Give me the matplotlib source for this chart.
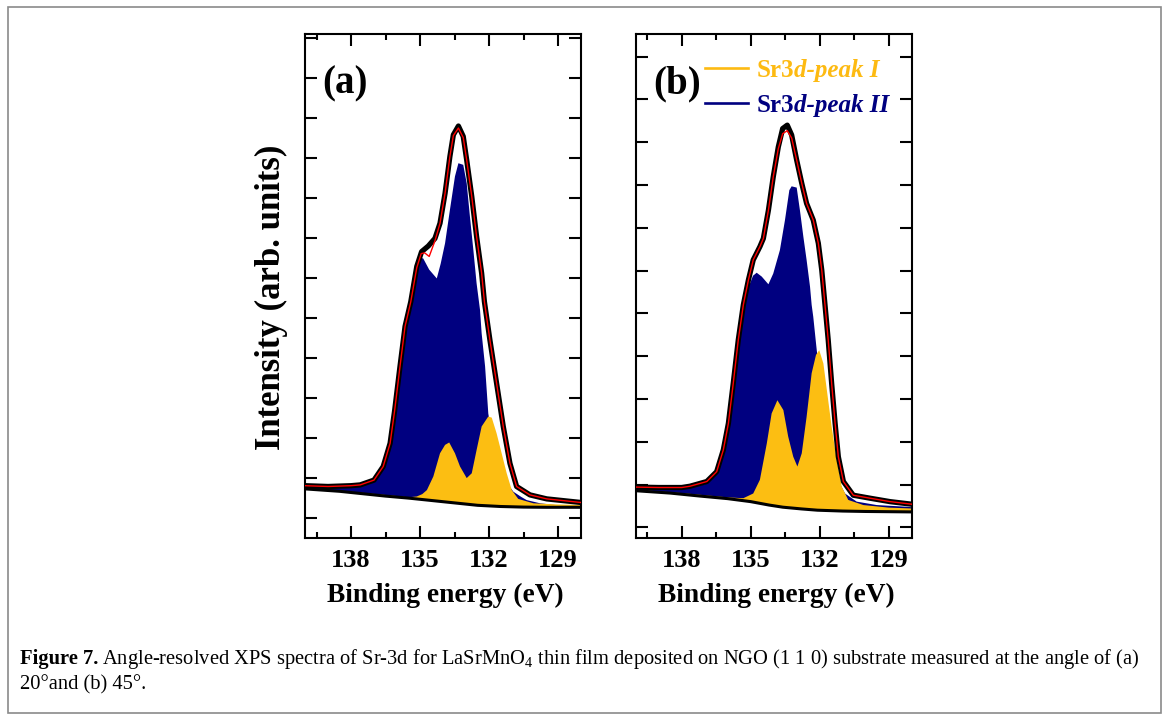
"""Angle-resolved XPS Sr-3d spectra of LaSrMnO4 on NGO (1 1 0), panels (a) and (b)."""

import matplotlib

matplotlib.use("Agg")
import matplotlib.pyplot as plt
from matplotlib.patches import Rectangle
from matplotlib.ticker import MultipleLocator

plt.rcParams["font.family"] = ["Liberation Serif", "DejaVu Serif"]
plt.rcParams["font.weight"] = "bold"
plt.rcParams["axes.labelweight"] = "bold"
plt.rcParams["mathtext.fontset"] = "custom"
plt.rcParams["mathtext.rm"] = "Liberation Serif:regular"
plt.rcParams["mathtext.it"] = "Liberation Serif:italic"
plt.rcParams["mathtext.bf"] = "Liberation Serif:bold"

# ---- panel (a), 20 deg: binding energy (eV) / intensity (arb. units) ----
env_a_E = [140.0, 139.0, 138.0, 137.6, 137.0, 136.6, 136.3, 136.1, 135.87, 135.65,
           135.4, 135.14, 134.93, 134.64, 134.35, 134.13, 133.91, 133.7, 133.55,
           133.33, 133.12, 132.97, 132.75, 132.54, 132.32, 132.2, 131.96, 131.67,
           131.38, 131.09, 130.8, 130.22, 129.49, 128.0]
env_a_I = [0.80, 0.78, 0.80, 0.82, 0.94, 1.28, 1.86, 2.69, 3.78, 4.78,
           5.40, 6.28, 6.65, 6.79, 6.98, 7.36, 8.11, 9.03, 9.57,
           9.79, 9.53, 8.94, 8.03, 7.03, 6.11, 5.40, 4.44, 3.36,
           2.28, 1.36, 0.78, 0.57, 0.47, 0.38]
fit_a_E = [140.0, 139.0, 138.0, 137.6, 137.0, 136.6, 136.3, 136.1, 135.87, 135.65,
           135.4, 135.14, 134.95, 134.8, 134.6, 134.35, 134.13, 133.91, 133.7, 133.55,
           133.33, 133.12, 132.97, 132.75, 132.54, 132.32, 132.2, 131.96, 131.67,
           131.38, 131.09, 130.8, 130.22, 129.49, 128.0]
fit_a_I = [0.80, 0.78, 0.80, 0.82, 0.94, 1.28, 1.86, 2.69, 3.78, 4.78,
           5.40, 6.25, 6.60, 6.62, 6.53, 6.92, 7.36, 8.11, 9.03, 9.55,
           9.74, 9.50, 8.94, 8.03, 7.03, 6.11, 5.40, 4.44, 3.36,
           2.28, 1.36, 0.78, 0.57, 0.47, 0.38]
bg_a_E = [140.0, 138.5, 137.5, 136.5, 135.5, 134.5, 133.5, 132.5, 131.5, 130.5, 129.5, 128.0]
bg_a_I = [0.72, 0.66, 0.60, 0.54, 0.49, 0.43, 0.37, 0.31, 0.28, 0.265, 0.26, 0.26]
peak2_a_E = [140.0, 138.5, 137.6, 137.0, 136.6, 136.3, 136.1, 135.87, 135.65, 135.4,
             135.2, 135.0, 134.86, 134.6, 134.27, 134.1, 133.91, 133.7, 133.48, 133.33,
             133.12, 132.97, 132.83, 132.68, 132.54, 132.39, 132.32, 132.17, 132.03,
             131.85, 131.5, 131.2, 130.94, 130.6, 130.36, 129.78, 129.0, 128.0]
peak2_a_I = [0.77, 0.76, 0.79, 0.90, 1.22, 1.78, 2.60, 3.70, 4.70, 5.30,
             6.00, 6.50, 6.48, 6.20, 5.98, 6.35, 6.86, 7.69, 8.53, 8.86,
             8.82, 8.36, 7.53, 6.69, 5.86, 5.19, 4.61, 3.78, 2.60,
             2.00, 1.20, 0.85, 0.65, 0.52, 0.44, 0.36, 0.31, 0.29]
peak1_a_E = [140.0, 138.0, 136.0, 135.5, 135.14, 134.9, 134.7, 134.42, 134.13, 133.91,
             133.73, 133.48, 133.26, 132.97, 132.75, 132.54, 132.32, 132.03, 131.88,
             131.67, 131.45, 131.23, 131.01, 130.73, 130.07, 129.0, 128.0]
peak1_a_I = [0.74, 0.65, 0.54, 0.51, 0.53, 0.59, 0.69, 1.03, 1.61, 1.82,
             1.88, 1.61, 1.28, 0.99, 1.11, 1.69, 2.28, 2.53, 2.50,
             2.11, 1.61, 1.11, 0.69, 0.47, 0.36, 0.33, 0.32]

# ---- panel (b), 45 deg ----
env_b_E = [140.0, 139.0, 138.0, 137.64, 136.91, 136.48, 136.19, 135.97, 135.76, 135.54,
           135.32, 135.1, 134.89, 134.6, 134.45, 134.23, 134.02, 133.8, 133.61, 133.41,
           133.22, 133.0, 132.78, 132.57, 132.28, 132.06, 131.91, 131.77, 131.63, 131.48,
           131.33, 131.19, 130.97, 130.54, 129.81, 128.94, 128.0]
env_b_I = [0.94, 0.93, 0.93, 0.96, 1.07, 1.30, 1.81, 2.43, 3.36, 4.38,
           5.20, 5.78, 6.25, 6.56, 6.75, 7.41, 8.19, 8.89, 9.32, 9.40,
           9.17, 8.58, 8.04, 7.57, 7.18, 6.64, 6.01, 5.20, 4.38, 3.36,
           2.43, 1.65, 1.07, 0.75, 0.68, 0.60, 0.54]
fit_b_E = env_b_E
fit_b_I = [0.94, 0.93, 0.93, 0.96, 1.07, 1.30, 1.81, 2.43, 3.36, 4.38,
           5.20, 5.78, 6.25, 6.56, 6.75, 7.41, 8.19, 8.85, 9.20, 9.27,
           9.10, 8.58, 8.04, 7.57, 7.18, 6.64, 6.01, 5.20, 4.38, 3.36,
           2.43, 1.65, 1.07, 0.75, 0.68, 0.60, 0.54]
bg_b_E = [140.0, 138.5, 137.2, 136.0, 135.0, 134.2, 133.6, 132.8, 132.1, 131.0, 130.0, 128.0]
bg_b_I = [0.855, 0.80, 0.73, 0.67, 0.60, 0.52, 0.47, 0.43, 0.40, 0.38, 0.37, 0.36]
peak2_b_E = [140.0, 138.5, 137.64, 136.91, 136.48, 136.19, 135.97, 135.76, 135.54, 135.32,
             135.1, 134.9, 134.74, 134.52, 134.23, 134.02, 133.73, 133.51, 133.32, 133.22,
             133.0, 132.86, 132.71, 132.57, 132.42, 132.35, 132.28, 132.16, 132.0, 131.7,
             131.4, 131.1, 130.9, 130.39, 129.52, 128.22, 128.0]
peak2_b_I = [0.90, 0.89, 0.92, 1.02, 1.25, 1.75, 2.37, 3.28, 4.30, 5.10,
             5.60, 5.88, 5.95, 5.86, 5.68, 5.93, 6.48, 7.18, 7.88, 7.97,
             7.94, 7.41, 6.79, 6.25, 5.62, 5.20, 4.92, 4.30, 3.50, 2.40,
             1.50, 1.00, 0.79, 0.60, 0.52, 0.48, 0.47]
peak1_b_E = [140.0, 138.0, 136.0, 135.32, 134.89, 134.6, 134.3, 134.09, 133.84, 133.58,
             133.37, 133.15, 132.97, 132.78, 132.57, 132.35, 132.16, 132.02, 131.84,
             131.67, 131.48, 131.26, 131.04, 130.76, 130.1, 129.0, 128.0]
peak1_b_I = [0.88, 0.80, 0.70, 0.68, 0.79, 1.11, 1.96, 2.66, 2.97, 2.74,
             2.12, 1.65, 1.42, 1.73, 2.58, 3.60, 4.03, 4.14, 3.83,
             3.13, 2.35, 1.57, 0.95, 0.64, 0.52, 0.46, 0.44]

x_ticks = [138, 135, 132, 129]
legend_labels = [("Sr3", "d-peak I"), ("Sr3", "d-peak II")]
caption_bold = "Figure 7."
caption_lines = [
    "Angle-resolved XPS spectra of Sr-3d for LaSrMnO$_4$ thin film deposited on NGO (1 1 0) "
    "substrate measured at the angle of (a)",
    "20\u00b0and (b) 45\u00b0.",
]

YELLOW = "#FCBE12"
NAVY = "#000080"

W, H = 1170, 722


def text_run(fig, x_px, y_px, parts, gap=0.0):
    """Draw text pieces one after another on a shared baseline (pixel coords, top-left origin)."""
    renderer = fig.canvas.get_renderer()
    x = x_px
    for s, kw in parts:
        t = fig.text(x / W, 1 - y_px / H, s, ha="left", va="baseline", **kw)
        x = t.get_window_extent(renderer).x1 + gap
    return x


def draw_panel(ax, env, fit, bg, p2, p1, ylim, label):
    """Stacked component fills, background, measured envelope and fit line."""
    bgE, bgI = bg
    ax.fill(list(p2[0]) + bgE[::-1], list(p2[1]) + bgI[::-1], color=NAVY, lw=0, zorder=1)
    ax.fill(list(p1[0]) + bgE[::-1], list(p1[1]) + bgI[::-1], color=YELLOW, lw=0, zorder=2)
    ax.plot(bgE, bgI, color="black", lw=2.2, zorder=3)
    ax.plot(env[0], env[1], color="black", lw=3.8, zorder=4, solid_joinstyle="round")
    ax.plot(fit[0], fit[1], color="red", lw=1.0, zorder=5)

    ax.set_xlim(140, 128)
    ax.set_ylim(*ylim)
    ax.set_xticks(x_ticks)
    ax.xaxis.set_minor_locator(MultipleLocator(1.5))
    ax.yaxis.set_major_locator(MultipleLocator(1))
    ax.set_yticklabels([])
    ax.tick_params(which="both", direction="in", top=True, right=True, width=1.5,
                   labelsize=19, pad=8)
    ax.tick_params(which="major", length=8.6)
    ax.tick_params(which="minor", length=4.3)
    for s in ax.spines.values():
        s.set_linewidth(1.5)

    ax.set_xlabel("Binding energy (eV)", fontsize=19.8, fontweight="bold")
    ax.xaxis.set_label_coords(0.51, -0.09)
    ax.text(0.062, 0.90, label, transform=ax.transAxes, fontsize=28, va="center")


fig = plt.figure(figsize=(W / 100, H / 100), dpi=100)
ax_a = fig.add_axes([305 / W, 1 - 537.7 / H, 276 / W, 503.7 / H])
ax_b = fig.add_axes([635.7 / W, 1 - 537.7 / H, 276 / W, 503.7 / H])

draw_panel(ax_a, (env_a_E, env_a_I), (fit_a_E, fit_a_I), (bg_a_E, bg_a_I),
           (peak2_a_E, peak2_a_I), (peak1_a_E, peak1_a_I), (-0.5, 12.09), "(a)")
draw_panel(ax_b, (env_b_E, env_b_I), (fit_b_E, fit_b_I), (bg_b_E, bg_b_I),
           (peak2_b_E, peak2_b_I), (peak1_b_E, peak1_b_I), (-0.243, 11.53), "(b)")

fig.text(271.5 / W, 1 - 297.5 / H, "Intensity (arb. units)", rotation=90,
         ha="center", va="center", fontsize=25)

# legend of panel (b): coloured line + "Sr3" upright and "d-peak" bold italic
for (head, tail), col, y_line in zip(legend_labels, ["#FDBA12", NAVY], [68.3, 103.3]):
    fig.add_artist(plt.Line2D([705 / W, 748.3 / W], [1 - y_line / H] * 2, color=col, lw=1.9))
    text_run(fig, 756.7, y_line + 8.3,
             [(head, dict(color=col, fontsize=18)),
              (tail, dict(color=col, fontsize=18, style="italic"))])

# caption
text_run(fig, 20, 664, [(caption_bold, dict(fontsize=14.8)),
                        (caption_lines[0], dict(fontsize=14.8, fontweight="normal"))], gap=4)
fig.text(20 / W, 1 - 689 / H, caption_lines[1], fontsize=14.8, fontweight="normal",
         ha="left", va="baseline")

# thin grey frame round the whole figure
fig.patches.append(Rectangle((7.5 / W, 1 - 713 / H), 1153.5 / W, 706 / H,
                             transform=fig.transFigure, fill=False,
                             edgecolor="#8a8a8a", lw=1.2))

fig.savefig("out.png", dpi=100)
